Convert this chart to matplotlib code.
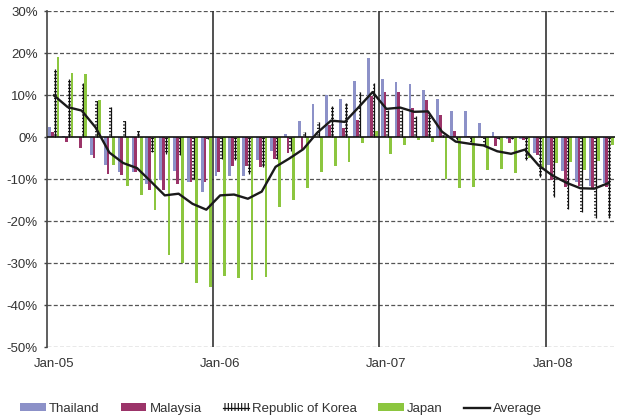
import numpy as np
import pandas as pd
import matplotlib
matplotlib.use("Agg")
import matplotlib.pyplot as plt
from matplotlib.patches import Patch
from matplotlib.lines import Line2D

plt.rcParams['font.family'] = ['Liberation Sans', 'DejaVu Sans']
plt.rcParams['hatch.linewidth'] = 0.8

# Months Jan-05 .. May-08
months = pd.date_range("2005-01-01", periods=41, freq="MS")
tick_labels = ["Jan-05", "Jan-06", "Jan-07", "Jan-08"]
tick_months = ["2005-01", "2006-01", "2007-01", "2008-01"]

thailand = [2.5, 0.3, 0.0, -4.4, -6.6, -8.4, -8.4, -11.3, -10.2, -8.2,
            -10.8, -13.2, -9.4, -9.2, -9.2, -5.4, -3.4, 0.8, 3.9, 7.9,
            10.0, 9.1, 13.4, 18.7, 13.7, 13.1, 12.7, 11.3, 9.1, 6.3,
            6.3, 3.4, 1.3, -0.4, -0.4, -3.7, -6.6, -8.2, -10.8, -11.6,
            -11.0]
malaysia = [1.3, -1.3, -2.7, -5.1, -8.7, -9.0, -8.4, -12.5, -12.5, -11.3,
            -10.8, -10.8, -8.4, -7.0, -7.0, -7.1, -5.2, -3.8, -2.9, 0.0,
            2.9, 2.2, 4.1, 9.7, 10.6, 10.6, 6.9, 8.7, 5.3, 1.5,
            0.3, -0.3, -2.2, -1.4, -0.7, -4.2, -10.3, -12.0, -11.7, -12.1,
            -12.0]
korea = [16.2, 13.9, 12.9, 8.5, 7.1, 3.8, 1.5, -3.6, -4.0, -4.4,
         -9.9, -0.5, -5.2, -5.4, -8.8, -7.1, -5.2, -3.4, 1.1, 3.6,
         7.5, 8.1, 10.7, 12.9, 6.5, 6.5, 5.1, 5.2, 0.5, -0.8,
         -1.2, -2.0, -0.5, -0.5, -5.4, -9.6, -14.3, -17.1, -17.9, -19.3,
         -19.3]
japan = [19.0, 15.3, 15.1, 8.9, -6.7, -11.6, -13.7, -17.3, -28.2, -30.0,
         -34.8, -35.8, -33.0, -33.5, -34.0, -33.3, -16.7, -14.9, -12.2, -8.4,
         -7.0, -6.0, -1.5, 1.5, -4.0, -1.8, -0.8, -1.3, -9.9, -12.2,
         -12.0, -7.9, -7.6, -8.6, -5.0, -7.4, -6.2, -6.0, -7.9, -5.8,
         -1.8]
average = [9.9, 7.1, 6.3, 2.3, -3.7, -6.2, -7.4, -10.6, -13.9, -13.5,
           -15.9, -17.3, -13.9, -13.7, -14.7, -13.0, -7.1, -5.1, -2.9, 1.0,
           3.9, 3.6, 7.1, 10.7, 6.7, 7.0, 6.0, 6.1, 1.3, -1.1,
           -1.6, -2.0, -3.4, -4.0, -3.0, -6.8, -9.2, -10.9, -12.2, -12.3,
           -11.0]
yticks = [-50, -40, -30, -20, -10, 0, 10, 20, 30]

c_thai = '#8C91C8'
c_mal = '#9B3469'
c_jap = '#8CC63F'
c_txt = '#333333'

fig = plt.figure(figsize=(6.19, 4.17), dpi=100)
ax = fig.add_axes([47/619, 1-347/417, (615-47)/619, (347-11)/417])

n = len(months)
x = np.arange(n) + 0.5
w = 0.2

# gridlines
for v in yticks:
    if v == 0:
        continue
    ax.axhline(v, color='#555555', lw=0.9, ls=(0, (3.2, 1.8)), zorder=1)

ax.bar(x - 0.3, thailand, width=w, color=c_thai, zorder=2, linewidth=0)
ax.bar(x - 0.1, malaysia, width=w, color=c_mal, zorder=2, linewidth=0)
ax.bar(x + 0.1, korea, width=w, facecolor='none', edgecolor='#111111',
       hatch='-----', linewidth=0, zorder=2)
ax.vlines(x + 0.1, 0, korea, color='#111111', lw=0.9, zorder=2)
ax.bar(x + 0.3, japan, width=w, color=c_jap, zorder=2, linewidth=0)

# year separators
mlist = [m.strftime("%Y-%m") for m in months]
for tm in tick_months[1:]:
    ax.axvline(mlist.index(tm), color='#333333', lw=1.2, zorder=2.5)

ax.axhline(0, color='#111111', lw=1.2, zorder=3)
ax.plot(x, average, color='#1a1a1a', lw=1.7, zorder=4, solid_joinstyle='round')

ax.set_xlim(0, n)
ax.set_ylim(-50, 30)
ax.set_yticks(yticks)
ax.set_yticklabels([f"{v}%" for v in yticks])
ax.set_xticks([mlist.index(tm) + 0.5 for tm in tick_months])
ax.set_xticklabels(tick_labels)

for s in ['top', 'right', 'bottom']:
    ax.spines[s].set_visible(False)
ax.spines['left'].set_color('#444444')
ax.spines['left'].set_linewidth(1.2)
ax.tick_params(axis='y', length=2.5, width=1, color='#444444', pad=4,
               labelsize=9.5, labelcolor=c_txt)
ax.tick_params(axis='x', length=0, pad=8, labelsize=9.5, labelcolor=c_txt)

handles = [
    Patch(facecolor=c_thai, linewidth=0),
    Patch(facecolor=c_mal, linewidth=0),
    (Patch(facecolor='none', edgecolor='#111111', hatch='|||||', linewidth=0),
     Line2D([0], [0], color='#111111', lw=0.9)),
    Patch(facecolor=c_jap, linewidth=0),
    Line2D([0], [0], color='#1a1a1a', lw=1.7),
]
labels = ["Thailand", "Malaysia", "Republic of Korea", "Japan", "Average"]
fig.legend(handles, labels, loc='center left', ncol=5, frameon=False,
           bbox_to_anchor=(20/619, 1-409/417), bbox_transform=fig.transFigure,
           borderpad=0, borderaxespad=0, handlelength=1.95, handleheight=0.55,
           handletextpad=0.25, columnspacing=1.6, fontsize=9.5,
           labelcolor=c_txt)

fig.savefig("out.png", dpi=100)
